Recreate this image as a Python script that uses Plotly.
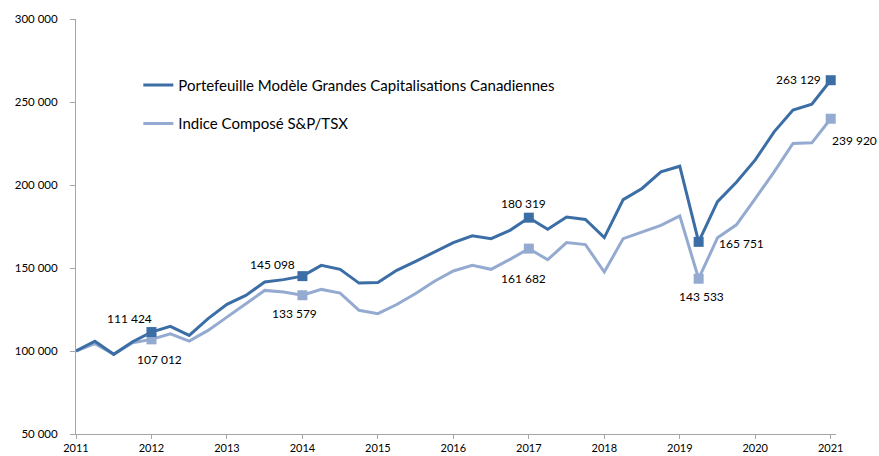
import plotly.graph_objects as go

# ---- data ----
quarter_index = list(range(41))
years = [2011 + q / 4 for q in quarter_index]

portefeuille = [100000, 105900, 98000, 105600, 111424, 114800, 109400, 119500, 128100, 133500,
                141600, 143000, 145098, 151600, 149200, 140900, 141200, 148600, 154000, 159800,
                165300, 169400, 167700, 172700, 180319, 173300, 180700, 179200, 168300, 191200,
                197900, 207900, 211300, 165751, 190000, 201700, 215100, 232000, 245100, 248700,
                263129]
indice = [100000, 104400, 98000, 105000, 107012, 110400, 106000, 112400, 120400, 128500,
          136500, 135500, 133579, 137100, 134900, 124500, 122500, 128000, 134600, 142000,
          148200, 151600, 149200, 155200, 161682, 155000, 165300, 164100, 147600, 167700,
          171700, 175700, 181400, 143533, 168200, 176000, 191800, 207900, 225000, 225400,
          239920]
highlight = [4, 12, 24, 33, 40]

name_p = "Portefeuille Modèle Grandes Capitalisations Canadiennes"
name_i = "Indice Composé S&P/TSX"

y_ticks = [50000, 100000, 150000, 200000, 250000, 300000]
x_ticks = list(range(2011, 2022))

# ---- styles ----
dark = "#3C6EA6"
light = "#94AAD0"
axis_col = "#A6A6A6"
font = "Lato"

# label pixel offsets (xshift, yshift) for each highlighted point
off_p = [(-22, 14), (-30, 12), (-5, 14), (43, -2), (-32, 1)]
off_i = [(8, -20), (-8, -18), (-5, -30), (3, -18), (24, -22)]


def fmt(v):
    return f"{v:,}".replace(",", " ")


fig = go.Figure()
fig.add_trace(go.Scatter(x=years, y=indice, mode="lines", name=name_i,
                         line=dict(color=light, width=3), legendgroup="b", legendrank=2))
fig.add_trace(go.Scatter(x=years, y=portefeuille, mode="lines", name=name_p,
                         line=dict(color=dark, width=3), legendgroup="a", legendrank=1))
fig.add_trace(go.Scatter(x=[years[i] for i in highlight], y=[indice[i] for i in highlight],
                         mode="markers", marker=dict(symbol="square", size=10, color=light),
                         showlegend=False, cliponaxis=False, hoverinfo="skip"))
fig.add_trace(go.Scatter(x=[years[i] for i in highlight], y=[portefeuille[i] for i in highlight],
                         mode="markers", marker=dict(symbol="square", size=10, color=dark),
                         showlegend=False, cliponaxis=False, hoverinfo="skip"))

annotations = []
for k, i in enumerate(highlight):
    annotations.append(dict(x=years[i], y=portefeuille[i], xref="x", yref="y",
                            text=fmt(portefeuille[i]), showarrow=False,
                            xshift=off_p[k][0], yshift=off_p[k][1],
                            font=dict(family=font, size=12, color="#000000")))
    annotations.append(dict(x=years[i], y=indice[i], xref="x", yref="y",
                            text=fmt(indice[i]), showarrow=False,
                            xshift=off_i[k][0], yshift=off_i[k][1],
                            font=dict(family=font, size=12, color="#000000")))

fig.update_layout(
    width=879, height=456,
    margin=dict(l=76, r=43, t=19, b=22, autoexpand=False),
    paper_bgcolor="white", plot_bgcolor="white",
    font=dict(family=font, size=11, color="#000000"),
    showlegend=True,
    legend=dict(x=0.082, y=0.88, xanchor="left", yanchor="top",
                font=dict(family=font, size=15, color="#000000"),
                tracegroupgap=16, bgcolor="rgba(0,0,0,0)"),
    annotations=annotations,
    xaxis=dict(range=[2011, 2021.07], tickvals=x_ticks, ticktext=[str(t) for t in x_ticks],
               showgrid=False, zeroline=False, showline=True, linecolor=axis_col, linewidth=1,
               ticks="outside", ticklen=4, tickcolor=axis_col, tickfont=dict(size=11),
               automargin=False),
    yaxis=dict(range=[50000, 300000], tickvals=y_ticks, ticktext=[fmt(t) for t in y_ticks],
               showgrid=False, zeroline=False, showline=True, linecolor=axis_col, linewidth=1,
               ticks="outside", ticklen=5, tickcolor=axis_col, tickfont=dict(size=11.5),
               ticklabelstandoff=10, automargin=False),
)

fig.write_html("out.html", config={"displayModeBar": False},
               post_script="document.body.style.margin='0';document.body.style.overflow='hidden';")
